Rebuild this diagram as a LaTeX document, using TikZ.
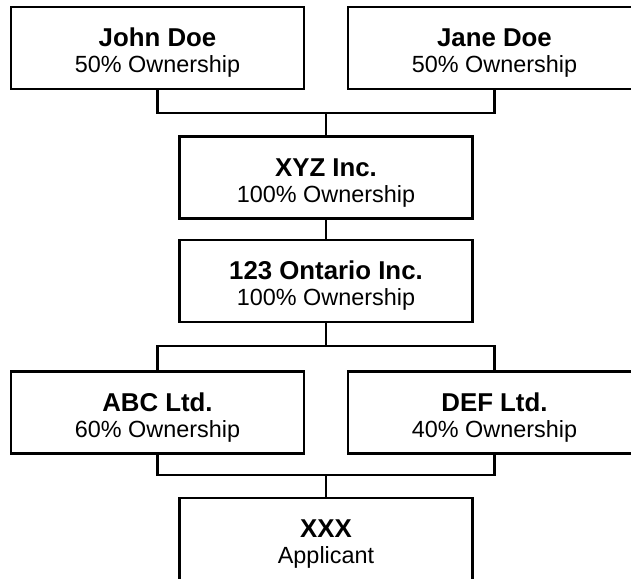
\documentclass[tikz,border=0pt]{standalone}
\usepackage{fontspec}
\setmainfont{Liberation Sans}
\newcommand\head[1]{\rule{0pt}{14pt}{\fontsize{12.9}{13}\selectfont\bfseries #1}}

\begin{document}
\begin{tikzpicture}[x=0.5pt, y=-0.5pt, line width=1.15pt,
  entity/.style={draw, rectangle, align=center, inner sep=0pt,
    minimum width=146.5pt, minimum height=41pt,
    font=\fontsize{11.7}{13}\selectfont}]
  \useasboundingbox (0,0) rectangle (631,578);
  \clip (0,0) rectangle (631,578);
  % owners
  \node[entity] (john) at (157.5,48) {\head{John Doe}\\50\% Ownership};
  \node[entity] (jane) at (494.5,48) {\head{Jane Doe}\\50\% Ownership};
  % holding chain
  \node[entity] (xyz) at (326,177.5) {\head{XYZ Inc.}\\100\% Ownership};
  \node[entity] (ontario) at (326,281) {\head{123 Ontario Inc.}\\100\% Ownership};
  % operating companies
  \node[entity] (abc) at (157.5,412.5) {\head{ABC Ltd.}\\60\% Ownership};
  \node[entity] (def) at (494.5,412.5) {\head{DEF Ltd.}\\40\% Ownership};
  \node[entity] (applicant) at (326,539) {\head{XXX}\\Applicant};
  % joins
  \coordinate (ownjoin) at (326,113);
  \coordinate (subjoin) at (326,346);
  \coordinate (appjoin) at (326,475);
  \draw (john.south) |- (ownjoin) -| (jane.south);
  \draw (ownjoin) -- (xyz.north);
  \draw (xyz.south) -- (ontario.north);
  \draw (ontario.south) -- (subjoin);
  \draw (abc.north) |- (subjoin) -| (def.north);
  \draw (abc.south) |- (appjoin) -| (def.south);
  \draw (appjoin) -- (applicant.north);
\end{tikzpicture}
\end{document}
